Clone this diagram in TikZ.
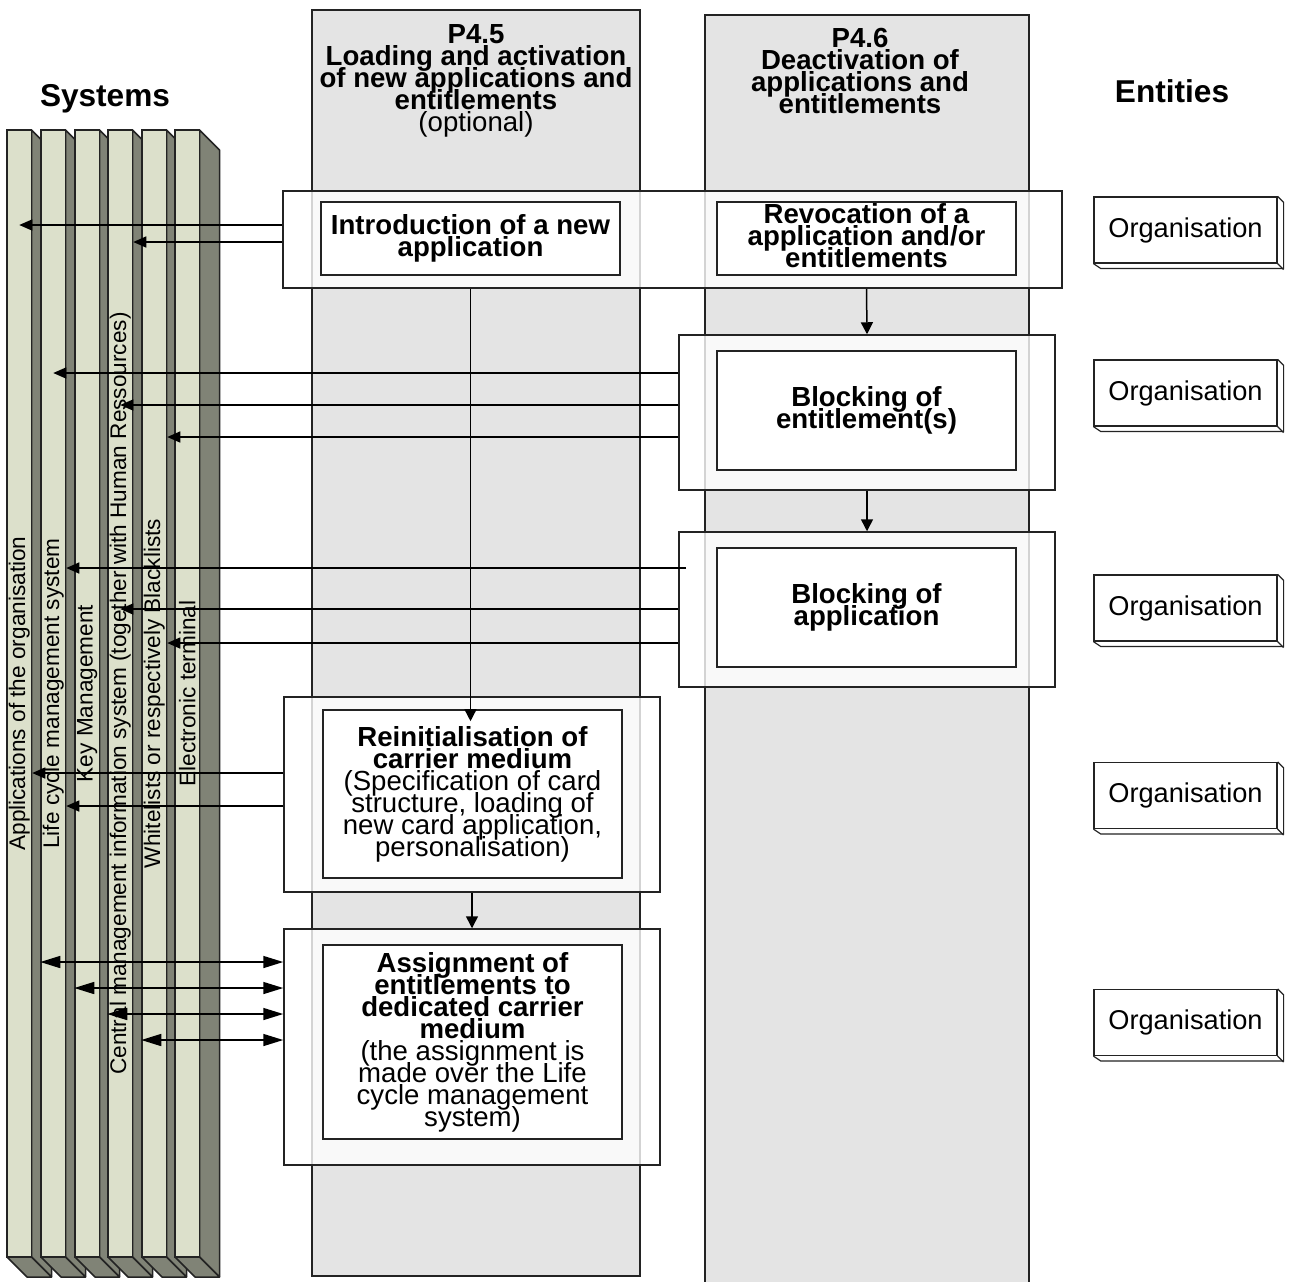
\documentclass[tikz,border=0pt]{standalone}
\usepackage{fontspec}
\setmainfont{Liberation Sans}
\usetikzlibrary{arrows.meta,fit}

\definecolor{lanegray}{RGB}{228,228,228}
\definecolor{barlight}{RGB}{220,224,203}
\definecolor{bardark}{RGB}{128,131,118}
\definecolor{edgegray}{RGB}{35,35,35}

\newcommand\taskfont{\fontsize{13.8}{11}\selectfont\lineskiplimit=-20pt\lineskip=0pt}
\newcommand\barfont{\fontsize{11.3}{13}\selectfont}
\newcommand\titlefont{\fontsize{15.8}{18}\selectfont\bfseries}

\tikzset{
  lane/.style={draw=edgegray,fill=lanegray,line width=0.75pt,inner sep=0pt},
  frame/.style={draw=edgegray,fill=white,fill opacity=0.8,line width=0.75pt,inner sep=0pt},
  task/.style={draw=edgegray,fill=white,line width=0.8pt,inner sep=0pt},
  tasktext/.style={align=center,font=\taskfont,inner sep=0pt},
  barfront/.style={draw=edgegray,fill=barlight,line width=0.75pt,inner sep=0pt,minimum width=12.25pt,minimum height=563.5pt},
  barside/.style={draw=edgegray,fill=bardark,line width=0.75pt,line join=round},
  entity/.style={draw=edgegray,fill=white,line width=0.6pt,minimum width=91.5pt,minimum height=33pt,font=\fontsize{13.6}{15}\selectfont},
  sysarrow/.style={-{Triangle[length=6.5pt,width=5.5pt]},line width=0.75pt},
  dual/.style={{Triangle[length=10pt,width=6pt]}-{Triangle[length=10pt,width=6pt]},line width=0.75pt},
  flow/.style={-{Triangle[length=6pt,width=6pt]},line width=0.75pt}
}

\begin{document}
\begin{tikzpicture}[x=0.5pt,y=-0.5pt]
\fill[white] (0,0) rectangle (1289,1281);
\useasboundingbox (0,0) rectangle (1289,1281);

% lanes
\node[lane,fit={(312,10) (640,1276)}] (laneA) {};
\node[lane,fit={(705,15) (1029,1300)}] (laneB) {};
\node[align=center,font=\taskfont] (headA) at (476,81) {\textbf{P4.5}\\\textbf{Loading and activation}\\\textbf{of new applications and}\\\textbf{entitlements}\\(optional)};
\node[align=center,font=\taskfont] (headB) at (860,71) {\textbf{P4.6}\\\textbf{Deactivation of}\\\textbf{applications and}\\\textbf{entitlements}};

\node[font=\titlefont] (systems) at (105,99) {Systems};
\node[font=\titlefont] (entities) at (1172,91) {Entities};

% systems
\foreach \i/\x/\txt in {1/7/{Applications of the organisation},2/41/{Life cycle management system},3/75/{Key Management},4/108/{Central management information system (together with Human Ressources)},5/142/{Whitelists or respectively Blacklists},6/175/{Electronic terminal}}{
  \path (\x+12.25,693.5) coordinate (c\i);
  \filldraw[barside] (c\i) ++(12.25,-563.5) -- ++(20,20) -- ++(0,1127) -- ++(-20,-20) -- cycle;
  \filldraw[barside] (c\i) ++(-12.25,563.5) -- ++(20,20) -- ++(24.5,0) -- ++(-20,-20) -- cycle;
  \node[barfront] (bar\i) at (c\i) {};
  \node[rotate=90,font=\barfont] (label\i) at (bar\i) {\txt};
}

% frames
\node[frame,fit={(283,191) (1062,288)}] (frameA) {};
\node[frame,fit={(679,335) (1055,490)}] (frameB) {};
\node[frame,fit={(679,532) (1055,687)}] (frameC) {};
\node[frame,fit={(284,697) (660,892)}] (frameD) {};
\node[frame,fit={(284,929) (660,1165)}] (frameE) {};

% tasks
\node[task,fit={(321,202) (620,275)}] (intro) {};
\node[task,fit={(717,202) (1016,275)}] (revoc) {};
\node[task,fit={(717,351) (1016,470)}] (blockE) {};
\node[task,fit={(717,548) (1016,667)}] (blockA) {};
\node[task,fit={(323,710) (622,878)}] (reinit) {};
\node[task,fit={(323,945) (622,1139)}] (assign) {};

\node[tasktext] (introText) at (intro) {\textbf{Introduction of a new}\\\textbf{application}};
\node[tasktext,yshift=1.5pt] (revocText) at (revoc) {\textbf{Revocation of a}\\\textbf{application and/or}\\\textbf{entitlements}};
\node[tasktext] (blockEText) at (blockE) {\textbf{Blocking of}\\\textbf{entitlement(s)}};
\node[tasktext] (blockAText) at (blockA) {\textbf{Blocking of}\\\textbf{application}};
\node[tasktext] (reinitText) at (reinit) {\textbf{Reinitialisation of}\\\textbf{carrier medium}\\(Specification of card\\structure, loading of\\new card application,\\personalisation)};
\node[tasktext] (assignText) at (assign) {\textbf{Assignment of}\\\textbf{entitlements to}\\\textbf{dedicated carrier}\\\textbf{medium}\\(the assignment is\\made over the Life\\cycle management\\system)};

% entities
\foreach \i/\y in {1/230,2/393,3/608,4/795.5,5/1022.5}{
  \node[entity] (ent\i) at (1185.5,\y) {Organisation};
  \draw[edgegray,line width=0.6pt] (ent\i.north east) -- ++(6,6) -- ++(0,66) -- ++(-183,0) -- (ent\i.south west);
  \draw[edgegray,line width=0.6pt] (ent\i.south east) -- ++(6,6);
}

% flow
\draw[flow] (intro.south |- frameA.south) -- ([yshift=-6pt]intro.south |- reinit.north);
\draw[flow] (frameD.south) -- (frameE.north);
\draw[flow] (revoc.south |- frameA.south) -- (frameB.north);
\draw[flow] (frameB.south) -- (frameC.north);

% links to systems
\draw[sysarrow] (frameA.west |- 0,225) -- (bar1 |- 0,225);
\draw[sysarrow] (frameA.west |- 0,242) -- (bar4.east |- 0,242);
\draw[sysarrow] (frameB.west |- 0,373) -- (bar2 |- 0,373);
\draw[sysarrow] (frameB.west |- 0,405) -- (bar4 |- 0,405);
\draw[sysarrow] (frameB.west |- 0,437) -- (bar5.east |- 0,437);
\draw[sysarrow] (686,568) -- (bar2.east |- 0,568);
\draw[sysarrow] (frameC.west |- 0,609) -- (bar4 |- 0,609);
\draw[sysarrow] (frameC.west |- 0,643) -- (bar5.east |- 0,643);
\draw[sysarrow] (frameD.west |- 0,773) -- (bar1.east |- 0,773);
\draw[sysarrow] (frameD.west |- 0,806) -- (bar2.east |- 0,806);
\draw[dual] (bar2.west |- 0,962) -- (frameE.west |- 0,962);
\draw[dual] (bar3.west |- 0,988) -- (frameE.west |- 0,988);
\draw[dual] (bar4.west |- 0,1014) -- (frameE.west |- 0,1014);
\draw[dual] (bar5.west |- 0,1040) -- (frameE.west |- 0,1040);
\end{tikzpicture}
\end{document}
